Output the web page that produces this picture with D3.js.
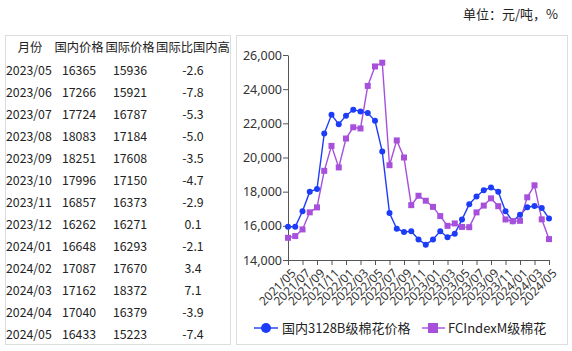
<!DOCTYPE html>
<html>
<head>
<meta charset="utf-8">
<script src="https://cdn.jsdelivr.net/npm/d3@7"></script>
<style>
  body { margin: 0; background: #fff; }
  svg { display: block; font-family: "Noto Sans CJK SC", "Noto Sans", sans-serif; }
</style>
</head>
<body>
<script>
// months shown on the chart, 2021/05 .. 2024/05
const months = [
  "2021/05", "2021/06", "2021/07", "2021/08", "2021/09", "2021/10", "2021/11", "2021/12",
  "2022/01", "2022/02", "2022/03", "2022/04", "2022/05", "2022/06", "2022/07", "2022/08",
  "2022/09", "2022/10", "2022/11", "2022/12", "2023/01", "2023/02", "2023/03", "2023/04",
  "2023/05", "2023/06", "2023/07", "2023/08", "2023/09", "2023/10", "2023/11", "2023/12",
  "2024/01", "2024/02", "2024/03", "2024/04", "2024/05"
];
const domestic = [
  15950, 15950, 16850, 18000, 18150, 21400, 22500, 21950,
  22450, 22800, 22700, 22600, 22150, 20350, 16750, 15830,
  15640, 15680, 15200, 14900, 15200, 15690, 15330, 15540,
  16365, 17266, 17724, 18083, 18251, 17996, 16857, 16262,
  16648, 17087, 17162, 17040, 16433
];
const intl = [
  15300, 15400, 15790, 16790, 17080, 19220, 20680, 19420,
  21110, 21770, 21700, 24190, 25330, 25550, 19550, 21000,
  20000, 17210, 17760, 17470, 17110, 16570, 16000, 16140,
  15936, 15921, 16787, 17184, 17608, 17150, 16373, 16271,
  16293, 17670, 18372, 16379, 15223
];
const yTicks = [14000, 16000, 18000, 20000, 22000, 24000, 26000];

// table
const tableHeader = ["月份", "国内价格", "国际价格", "国际比国内高"];
const tableMonths = ["2023/05", "2023/06", "2023/07", "2023/08", "2023/09", "2023/10",
  "2023/11", "2023/12", "2024/01", "2024/02", "2024/03", "2024/04", "2024/05"];
const tableDomestic = [16365, 17266, 17724, 18083, 18251, 17996, 16857, 16262, 16648, 17087, 17162, 17040, 16433];
const tableIntl = [15936, 15921, 16787, 17184, 17608, 17150, 16373, 16271, 16293, 17670, 18372, 16379, 15223];
const tableDiff = ["-2.6", "-7.8", "-5.3", "-5.0", "-3.5", "-4.7", "-2.9", "0.1", "-2.1", "3.4", "7.1", "-3.9", "-7.4"];

const blue = "#1d3cf7";
const purple = "#a650dc";
const textColor = "#222";

const width = 572, height = 351;

const svg = d3.select("body").append("svg")
  .attr("width", width)
  .attr("height", height);

// unit label
svg.append("text")
  .attr("x", 558).attr("y", 19)
  .attr("text-anchor", "end")
  .attr("font-size", 13)
  .attr("fill", textColor)
  .text("单位：元/吨，%");

// table panel
svg.append("rect")
  .attr("x", 5.5).attr("y", 35.5)
  .attr("width", 225).attr("height", 309)
  .attr("fill", "none").attr("stroke", "#ddd");

const colX = [30, 79, 130, 193];

const tbl = svg.append("g").attr("font-size", 12.3).attr("fill", textColor);

tbl.selectAll(".th")
  .data(tableHeader)
  .enter().append("text")
  .attr("class", "th")
  .attr("x", (d, i) => colX[i])
  .attr("y", 52)
  .attr("text-anchor", "middle")
  .text((d) => d);

const rowY = d3.scaleLinear().domain([0, tableMonths.length - 1]).range([74.5, 338.5]);

const rows = tbl.selectAll(".row")
  .data(tableMonths)
  .enter().append("g")
  .attr("class", "row")
  .attr("transform", (d, i) => `translate(0, ${rowY(i)})`);

rows.append("text").attr("x", 6).text((d) => d);
rows.append("text").attr("x", colX[1]).attr("text-anchor", "middle").text((d, i) => tableDomestic[i]);
rows.append("text").attr("x", colX[2]).attr("text-anchor", "middle").text((d, i) => tableIntl[i]);
rows.append("text").attr("x", colX[3]).attr("text-anchor", "middle").text((d, i) => tableDiff[i]);

// chart panel
svg.append("rect")
  .attr("x", 236.5).attr("y", 35.5)
  .attr("width", 331).attr("height", 309)
  .attr("fill", "none").attr("stroke", "#ddd");

const x = d3.scalePoint().domain(months).range([288, 549]);
const y = d3.scaleLinear().domain([14000, 26000]).range([260, 55]);

const yAxis = svg.append("g")
  .attr("transform", "translate(288, 0)")
  .call(d3.axisLeft(y).tickValues(yTicks).tickFormat(d3.format(",")).tickSize(5).tickSizeOuter(0));
yAxis.select(".domain").attr("stroke", "#555");
yAxis.selectAll(".tick line").attr("stroke", "#555");
yAxis.selectAll(".tick text")
  .attr("font-size", 12.5)
  .attr("font-family", "'Noto Sans', sans-serif")
  .attr("fill", "#333")
  .attr("x", -6);

const xAxis = svg.append("g")
  .attr("transform", "translate(0, 260)")
  .call(d3.axisBottom(x).tickValues(months.filter((d, i) => i % 2 === 0)).tickSize(5).tickSizeOuter(0));
xAxis.select(".domain").attr("stroke", "#555");
xAxis.selectAll(".tick line").attr("stroke", "#555");
xAxis.selectAll(".tick text")
  .attr("font-size", 12)
  .attr("font-family", "'Noto Sans', sans-serif")
  .attr("fill", "#333")
  .attr("text-anchor", "end")
  .attr("x", 0).attr("y", 0).attr("dy", 0)
  .attr("transform", "translate(8, 14) rotate(-45)");

const line = d3.line().x((d, i) => x(months[i])).y((d) => y(d));

svg.append("path")
  .datum(domestic)
  .attr("fill", "none").attr("stroke", blue).attr("stroke-width", 1.4)
  .attr("d", line);

svg.append("path")
  .datum(intl)
  .attr("fill", "none").attr("stroke", purple).attr("stroke-width", 1.4)
  .attr("d", line);

svg.selectAll(".dot")
  .data(domestic)
  .enter().append("circle")
  .attr("class", "dot")
  .attr("cx", (d, i) => x(months[i]))
  .attr("cy", (d) => y(d))
  .attr("r", 3)
  .attr("fill", blue);

svg.selectAll(".sq")
  .data(intl)
  .enter().append("rect")
  .attr("class", "sq")
  .attr("x", (d, i) => x(months[i]) - 3)
  .attr("y", (d) => y(d) - 3)
  .attr("width", 6).attr("height", 6)
  .attr("fill", purple);

// legend
const legend = svg.append("g").attr("font-size", 13).attr("fill", textColor);

legend.append("line")
  .attr("x1", 254).attr("x2", 278).attr("y1", 328).attr("y2", 328)
  .attr("stroke", blue).attr("stroke-width", 1.4);
legend.append("circle").attr("cx", 266).attr("cy", 328).attr("r", 5).attr("fill", blue);
legend.append("text").attr("x", 282).attr("y", 332.5).text("国内3128B级棉花价格");

legend.append("line")
  .attr("x1", 422).attr("x2", 445).attr("y1", 328).attr("y2", 328)
  .attr("stroke", purple).attr("stroke-width", 1.4);
legend.append("rect").attr("x", 428).attr("y", 323).attr("width", 10).attr("height", 10).attr("fill", purple);
legend.append("text").attr("x", 448).attr("y", 332.5).text("FCIndexM级棉花");
</script>
</body>
</html>
